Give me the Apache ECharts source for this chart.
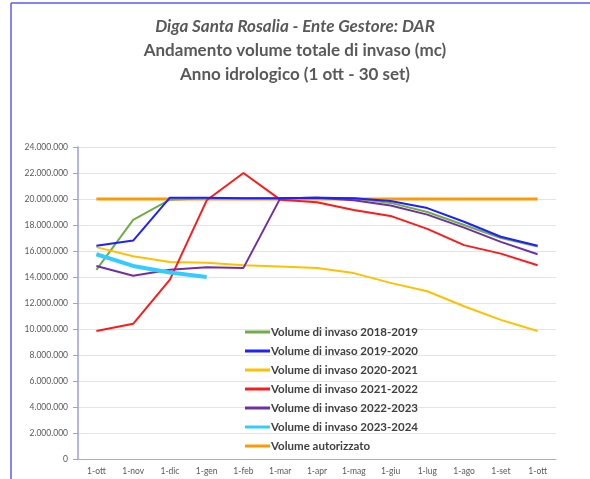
<!DOCTYPE html>
<html>
<head>
<meta charset="utf-8">
<script src="https://cdn.jsdelivr.net/npm/echarts@6/dist/echarts.min.js"></script>
<style>
  html, body { margin: 0; padding: 0; background: #fff; }
  #chart { width: 590px; height: 479px; }
</style>
</head>
<body>
<div id="chart"></div>
<script>
const months = ["1-ott", "1-nov", "1-dic", "1-gen", "1-feb", "1-mar", "1-apr",
  "1-mag", "1-giu", "1-lug", "1-ago", "1-set", "1-ott"];

// volumes in mc, one value per month start
const vol2018 = [14550000, 18400000, 19950000, 20050000, 20050000, 20050000, 20100000,
  20050000, 19700000, 19000000, 18000000, 17000000, 16350000];
const vol2019 = [16400000, 16800000, 20100000, 20100000, 20050000, 20050000, 20100000,
  20050000, 19850000, 19300000, 18250000, 17100000, 16400000];
const vol2020 = [16300000, 15600000, 15150000, 15100000, 14900000, 14800000, 14700000,
  14300000, 13550000, 12900000, 11750000, 10700000, 9850000];
const vol2021 = [9850000, 10400000, 13800000, 19900000, 22000000, 19950000, 19750000,
  19150000, 18700000, 17700000, 16450000, 15800000, 14900000];
const vol2022 = [14850000, 14100000, 14550000, 14750000, 14700000, 20050000, 20100000,
  19900000, 19500000, 18800000, 17800000, 16700000, 15750000];
const vol2023 = [15750000, 14850000, 14350000, 14000000];
const volAuth = [20000000, 20000000, 20000000, 20000000, 20000000, 20000000, 20000000,
  20000000, 20000000, 20000000, 20000000, 20000000, 20000000];

const seriesNames = ["Volume di invaso 2018-2019", "Volume di invaso 2019-2020",
  "Volume di invaso 2020-2021", "Volume di invaso 2021-2022",
  "Volume di invaso 2022-2023", "Volume di invaso 2023-2024", "Volume autorizzato"];

const fmt = (v) => String(v).replace(/\B(?=(\d{3})+(?!\d))/g, ".");

function line(name, data, color, width, z) {
  return {
    name, type: "line", data, symbol: "none", z,
    lineStyle: { color, width }, itemStyle: { color },
  };
}

const chart = echarts.init(document.getElementById("chart"), null, { renderer: "canvas" });
chart.setOption({
  animation: false,
  backgroundColor: "#fff",
  textStyle: { fontFamily: "Lato" },
  title: {
    left: "center", top: 13, itemGap: 4,
    text: "Diga Santa Rosalia - Ente Gestore: DAR",
    subtext: "Andamento volume totale di invaso (mc)\nAnno idrologico (1 ott - 30 set)",
    textStyle: { fontSize: 17, fontStyle: "italic", fontWeight: "bold", color: "#595959", fontFamily: "Lato" },
    subtextStyle: { fontSize: 17, fontWeight: "bold", color: "#595959", lineHeight: 24, fontFamily: "Lato" },
  },
  graphic: [
    { type: "line", shape: { x1: 11, y1: 3, x2: 590, y2: 3 }, style: { stroke: "#5b5bf0", lineWidth: 1.5 } },
    { type: "line", shape: { x1: 11, y1: 3, x2: 11, y2: 479 }, style: { stroke: "#5b5bf0", lineWidth: 1.5 } },
  ],
  legend: {
    orient: "vertical", left: 240, top: 321, itemGap: 7,
    itemWidth: 25, itemHeight: 3, icon: "rect",
    data: seriesNames,
    textStyle: { fontSize: 11.5, fontWeight: "bold", color: "#404040", padding: [0, 0, 0, -4] },
  },
  grid: { left: 78, right: 34, top: 147, bottom: 20 },
  xAxis: {
    type: "category", data: months, boundaryGap: true,
    axisLine: { lineStyle: { color: "#a8a8f0" } },
    axisTick: { lineStyle: { color: "#a8a8f0" } },
    axisLabel: { fontSize: 8.5, color: "#595959", margin: 8 },
  },
  yAxis: {
    type: "value", min: 0, max: 24000000, interval: 2000000,
    axisLine: { show: true, lineStyle: { color: "#9a9af5", width: 1.5 } },
    axisTick: { show: true, lineStyle: { color: "#9a9af5" } },
    axisLabel: { fontSize: 8.5, color: "#595959", formatter: fmt, margin: 10 },
    splitLine: { lineStyle: { color: "#e4e4e4" } },
  },
  series: [
    line(seriesNames[6], volAuth, "#ff9900", 3, 1),
    line(seriesNames[0], vol2018, "#70ad47", 2, 2),
    line(seriesNames[1], vol2019, "#1f1fff", 2, 3),
    line(seriesNames[2], vol2020, "#ffc000", 2, 2),
    line(seriesNames[3], vol2021, "#ff1a1a", 2, 2),
    line(seriesNames[4], vol2022, "#7030a0", 2, 2),
    line(seriesNames[5], vol2023, "#33ccff", 4, 2),
  ],
});
</script>
</body>
</html>
